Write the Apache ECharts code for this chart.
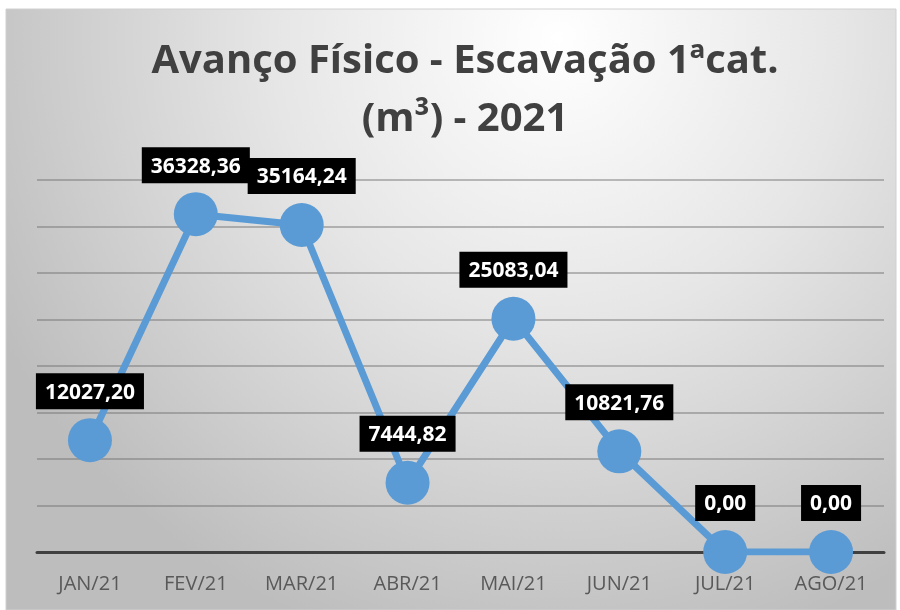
<!DOCTYPE html>
<html>
<head>
<meta charset="utf-8">
<script src="https://cdn.jsdelivr.net/npm/echarts@6/dist/echarts.min.js"></script>
<style>
  html, body { margin: 0; padding: 0; background: #fff; }
  #chart { width: 900px; height: 610px; }
</style>
</head>
<body>
<div id="chart"></div>
<script>
// dados do gráfico
const meses = ['JAN/21', 'FEV/21', 'MAR/21', 'ABR/21', 'MAI/21', 'JUN/21', 'JUL/21', 'AGO/21']
const volumes = [12027.20, 36328.36, 35164.24, 7444.82, 25083.04, 10821.76, 0, 0]
const titulo = 'Avanço Físico - Escavação 1ªcat.\n(m³) - 2021'

const chart = echarts.init(document.getElementById('chart'))

// formato pt-BR: vírgula decimal, sem separador de milhar
const fmt = v => v.toFixed(2).replace('.', ',')

chart.setOption({
  backgroundColor: '#fff',
  animation: false,
  graphic: [{
    type: 'rect',
    z: -10,
    shape: { x: 6, y: 9, width: 890, height: 601 },
    style: {
      stroke: '#d0d0d0',
      lineWidth: 1,
      fill: new echarts.graphic.RadialGradient(0.62, 0.05, 1.05, [
        { offset: 0, color: '#ffffff' },
        { offset: 0.45, color: '#e6e6e6' },
        { offset: 1, color: '#bdbdbd' }
      ])
    }
  }],
  title: {
    text: titulo,
    left: 460,
    top: 28,
    textAlign: 'center',
    textStyle: {
      fontFamily: 'Open Sans',
      fontSize: 40,
      fontWeight: 'bold',
      color: '#404040',
      lineHeight: 58
    }
  },
  grid: { left: 37, right: 16, top: 180, bottom: 58 },
  xAxis: {
    type: 'category',
    data: meses,
    axisLine: { lineStyle: { color: '#404040', width: 3 } },
    axisTick: { show: false },
    axisLabel: {
      margin: 22,
      fontFamily: 'Open Sans',
      fontSize: 20,
      color: '#595959'
    }
  },
  yAxis: {
    type: 'value',
    min: 0,
    max: 40000,
    interval: 5000,
    axisLabel: { show: false },
    axisLine: { show: false },
    axisTick: { show: false },
    splitLine: { lineStyle: { color: 'rgba(110,110,110,0.45)', width: 2 } }
  },
  series: [{
    type: 'line',
    data: volumes,
    symbol: 'circle',
    symbolSize: 44,
    lineStyle: { color: '#5b9bd5', width: 7 },
    itemStyle: { color: '#5b9bd5' },
    label: {
      show: true,
      position: 'top',
      distance: 9,
      formatter: p => fmt(p.value),
      fontFamily: 'Open Sans',
      fontSize: 21,
      fontWeight: 'bold',
      color: '#fff',
      backgroundColor: '#000',
      padding: [9, 9, 6, 9]
    }
  }]
})
</script>
</body>
</html>
